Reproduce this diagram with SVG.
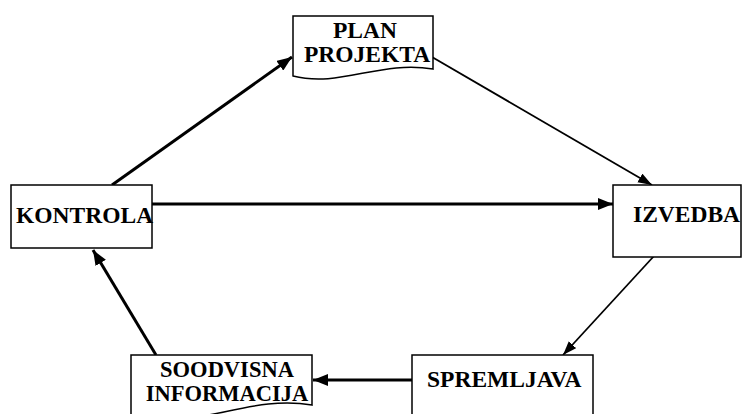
<svg xmlns="http://www.w3.org/2000/svg" width="744" height="414" viewBox="0 0 744 414">
<style>
.box{fill:#fff;stroke:#000;stroke-width:1.5}
.t{font-family:"Liberation Serif","Times New Roman",serif;font-weight:bold;font-size:23.5px;fill:#000}
.s{font-size:22.5px}
.thick{stroke:#000;stroke-width:3;fill:none}
.thin{stroke:#000;stroke-width:1.8;fill:none}
</style>
<defs>
<marker id="ah" markerUnits="userSpaceOnUse" markerWidth="16" markerHeight="12" refX="15" refY="6" orient="auto">
<path d="M0,0 L15,6 L0,12 z" fill="#000"/>
</marker>
<marker id="ahs" markerUnits="userSpaceOnUse" markerWidth="14" markerHeight="11" refX="14" refY="5" orient="auto">
<path d="M0,0 L14,5 L0,10 z" fill="#000"/>
</marker>
</defs>
<rect width="744" height="414" fill="#fff"/>
<g id="connectors">
<line class="thick" x1="112" y1="185" x2="292" y2="57" marker-end="url(#ah)"/>
<line class="thin" x1="432" y1="57" x2="652" y2="185" marker-end="url(#ahs)"/>
<line class="thick" x1="152" y1="204" x2="613" y2="204" marker-end="url(#ah)"/>
<line class="thin" x1="654" y1="256" x2="563" y2="355" marker-end="url(#ahs)"/>
<line class="thick" x1="412" y1="380" x2="313" y2="380" marker-end="url(#ah)"/>
<line class="thick" x1="156" y1="355" x2="93" y2="250" marker-end="url(#ah)"/>
</g>
<g id="plan-projekta">
<path class="box" d="M293,16 H433 V69 C380,60 340,88 293,76 Z"/>
<text class="t" x="365" y="38" text-anchor="middle">PLAN</text>
<text class="t" x="367" y="62" text-anchor="middle">PROJEKTA</text>
</g>
<g id="kontrola">
<rect class="box" x="11" y="185" width="141" height="63"/>
<text class="t" x="16" y="223">KONTROLA</text>
</g>
<g id="izvedba">
<rect class="box" x="613" y="185" width="128" height="72"/>
<text class="t" x="633" y="222">IZVEDBA</text>
</g>
<g id="spremljava">
<rect class="box" x="412" y="355" width="181" height="75"/>
<text class="t" x="427" y="387">SPREMLJAVA</text>
</g>
<g id="soodvisna-informacija">
<path class="box" d="M131,355 H312 V405 C250,394 200,430 131,418 Z"/>
<text class="t s" x="227" y="377" text-anchor="middle">SOODVISNA</text>
<text class="t s" x="227" y="401" text-anchor="middle">INFORMACIJA</text>
</g>
</svg>
